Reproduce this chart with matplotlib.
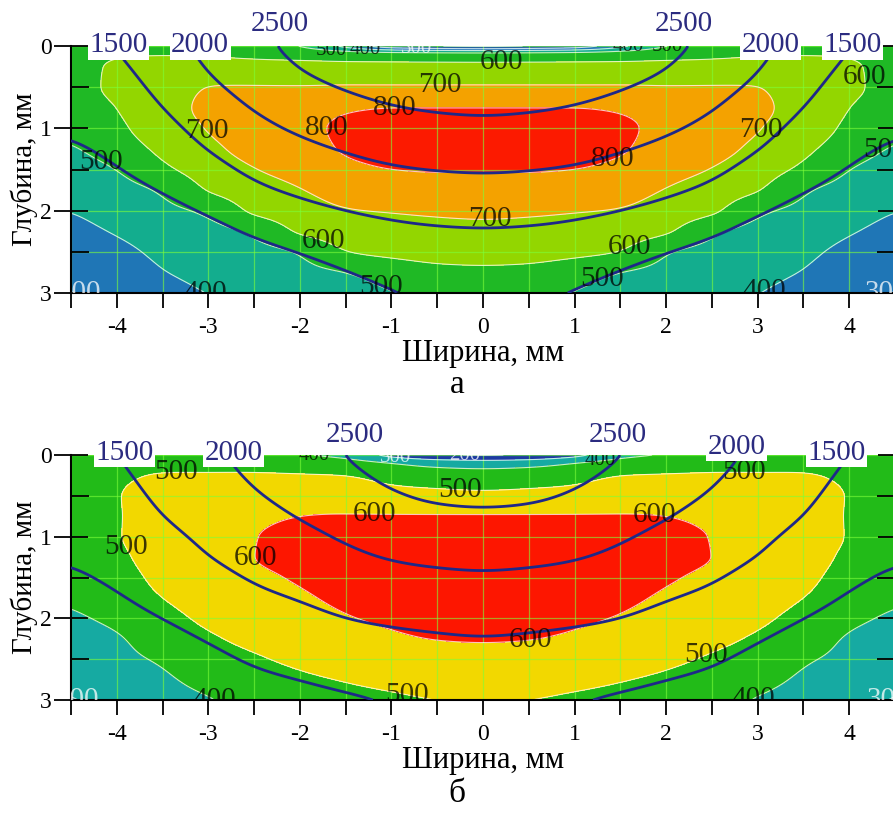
"""Two-panel cross-section map (а, б): filled field with its isolines and
temperature isotherms on top. Fields are given on a half-width grid
(x >= 0) and mirrored about the centre line.
"""
import numpy as np
import matplotlib

matplotlib.use("Agg")
import matplotlib.pyplot as plt  # noqa: E402

plt.rcParams["font.family"] = ["Liberation Serif", "DejaVu Serif"]
plt.rcParams["axes.unicode_minus"] = False

# grid: half-width (mm) and depth (mm)
X_HALF = [0, 0.5, 1, 1.5, 2, 2.5, 3, 3.5, 4, 4.5]
DEPTH = [0, 0.1, 0.25, 0.5, 0.75, 1.0, 1.25, 1.5, 1.75, 2.0, 2.25, 2.5, 2.75, 3.0]

# panel а, filled field (rows = DEPTH, cols = X_HALF)
FIELD_A = [
    [150, 170, 210, 360, 495, 545, 570, 580, 560, 540],
    [545, 548, 552, 560, 570, 580, 592, 597, 592, 556],
    [620, 620, 620, 620, 625, 630, 640, 630, 612, 565],
    [710, 710, 710, 710, 705, 705, 702, 665, 620, 560],
    [800, 800, 800, 790, 760, 740, 712, 675, 600, 545],
    [830, 830, 828, 815, 775, 745, 703, 665, 575, 520],
    [830, 830, 825, 808, 765, 730, 680, 625, 540, 490],
    [805, 805, 800, 780, 735, 697, 645, 580, 500, 465],
    [760, 760, 755, 740, 695, 655, 607, 510, 470, 430],
    [715, 712, 705, 695, 655, 620, 515, 480, 440, 400],
    [680, 675, 665, 650, 615, 515, 475, 455, 408, 370],
    [630, 628, 620, 600, 505, 475, 450, 425, 370, 345],
    [585, 580, 550, 500, 475, 450, 425, 397, 335, 320],
    [540, 535, 495, 450, 440, 420, 402, 365, 305, 298],
]

# panel а, temperature
TEMP_A = [
    [3095, 3067, 2968, 2830, 2620, 2400, 2122, 1833, 1507, 1363],
    [3025, 2997, 2903, 2770, 2580, 2350, 2088, 1788, 1472, 1330],
    [2920, 2892, 2806, 2680, 2520, 2275, 2035, 1721, 1420, 1280],
    [2745, 2717, 2643, 2530, 2375, 2150, 1919, 1608, 1332, 1198],
    [2570, 2542, 2479, 2367, 2219, 2025, 1785, 1495, 1245, 1116],
    [2393, 2366, 2308, 2200, 2063, 1882, 1651, 1375, 1157, 1033],
    [2214, 2190, 2137, 2033, 1900, 1735, 1516, 1255, 1070, 951],
    [2036, 2014, 1962, 1857, 1733, 1588, 1359, 1135, 983, 868],
    [1846, 1823, 1769, 1679, 1567, 1426, 1199, 1014, 895, 786],
    [1654, 1631, 1577, 1500, 1390, 1243, 1038, 894, 808, 703],
    [1472, 1455, 1412, 1329, 1200, 1059, 878, 774, 720, 621],
    [1333, 1313, 1265, 1158, 1015, 875, 718, 654, 633, 538],
    [1194, 1170, 1118, 986, 830, 691, 558, 534, 545, 456],
    [1056, 1028, 971, 815, 645, 508, 398, 413, 458, 373],
]

# panel б, filled field
FIELD_B = [
    [180, 200, 260, 370, 405, 450, 470, 480, 480, 470],
    [350, 360, 400, 440, 460, 475, 485, 490, 488, 475],
    [440, 450, 470, 500, 505, 508, 505, 503, 492, 478],
    [520, 525, 530, 545, 560, 560, 545, 525, 497, 480],
    [605, 605, 605, 605, 600, 585, 562, 535, 495, 475],
    [640, 640, 635, 630, 618, 598, 570, 538, 495, 465],
    [655, 655, 650, 640, 620, 600, 568, 533, 485, 452],
    [655, 655, 648, 635, 608, 585, 557, 520, 470, 435],
    [645, 642, 635, 618, 588, 562, 540, 500, 455, 410],
    [625, 622, 612, 595, 562, 540, 517, 470, 420, 385],
    [605, 602, 590, 570, 535, 517, 490, 440, 392, 360],
    [575, 572, 560, 540, 515, 492, 465, 410, 380, 340],
    [540, 535, 522, 505, 485, 465, 432, 385, 355, 320],
    [505, 500, 485, 470, 445, 438, 392, 360, 330, 292],
]

# panel б, temperature
TEMP_B = [
    [2948, 2890, 2752, 2509, 2336, 2160, 1909, 1751, 1490, 1346],
    [2878, 2825, 2692, 2463, 2294, 2122, 1876, 1718, 1460, 1320],
    [2773, 2728, 2602, 2394, 2231, 2065, 1827, 1668, 1416, 1281],
    [2598, 2565, 2455, 2278, 2126, 1966, 1744, 1586, 1342, 1216],
    [2429, 2404, 2313, 2162, 2021, 1859, 1662, 1503, 1268, 1151],
    [2269, 2244, 2170, 2046, 1899, 1752, 1579, 1403, 1195, 1086],
    [2109, 2083, 2028, 1917, 1773, 1645, 1495, 1302, 1121, 1021],
    [1950, 1924, 1875, 1778, 1646, 1538, 1377, 1202, 1047, 956],
    [1794, 1766, 1719, 1639, 1520, 1421, 1259, 1101, 973, 891],
    [1638, 1608, 1563, 1500, 1392, 1297, 1142, 1000, 900, 826],
    [1484, 1456, 1417, 1361, 1263, 1173, 1024, 899, 826, 761],
    [1349, 1319, 1278, 1222, 1134, 1050, 906, 799, 752, 696],
    [1215, 1181, 1139, 1083, 1005, 926, 788, 698, 678, 631],
    [1081, 1044, 1000, 944, 876, 802, 670, 597, 605, 566],
]

LEVELS_A = [200, 300, 400, 500, 600, 700, 800]
COLORS_A = ["#14237e", "#1c56a6", "#1f76b6", "#13ad8e", "#1fb925",
            "#93d600", "#f4a200", "#fc1a00"]
LEVELS_B = [200, 300, 400, 500, 600]
COLORS_B = ["#0f1f86", "#1c3aa2", "#16aaa2", "#22bb18", "#f2d800", "#fd1600"]
TEMP_LEVELS = [1000, 1500, 2000, 2500]

# where the field labels sit (nearest isoline gets the label)
LABEL_POS_A = [(-2.98, 1.0), (-1.67, 1.0), (-0.96, 0.69), (-0.47, 0.42),
               (0.2, 0.22), (1.39, 1.3), (3.03, 1.02), (4.17, 0.38),
               (4.36, 1.2), (-4.19, 1.45), (-1.73, 2.33), (0.08, 2.12),
               (1.6, 2.45), (-2.93, 2.96), (-1.13, 2.96), (1.33, 2.9),
               (3.08, 2.98), (-4.4, 2.97), (4.4, 2.97),
               (-1.65, 0.01), (-1.28, 0.01), (-0.72, 0.01), (1.6, 0.01),
               (2.05, 0.02)]
LABEL_POS_B = [(-3.35, 0.27), (-3.72, 1.02), (-1.18, 0.68), (-2.45, 1.25),
               (-1.95, 0.0), (-0.96, 0.05), (-0.2, 0.02), (1.28, 0.1),
               (-0.25, 0.43), (1.87, 0.72), (2.85, 0.22), (0.52, 2.27),
               (2.42, 2.42), (2.9, 2.9), (4.4, 2.98), (-4.4, 2.98),
               (-2.63, 2.94), (-0.82, 2.9)]

# isotherm tags above the top edge: (x, y, level)
TEMP_TAGS_A = [(-3.98, -0.01, 1500), (-3.09, -0.01, 2000), (-2.22, -0.27, 2500),
               (2.19, -0.27, 2500), (3.14, -0.01, 2000), (4.04, -0.01, 1500)]
TEMP_TAGS_B = [(-3.92, -0.03, 1500), (-2.72, -0.03, 2000), (-1.4, -0.25, 2500),
               (1.47, -0.25, 2500), (2.77, -0.1, 2000), (3.86, -0.03, 1500)]

LINE_COLOR = "#1e2888"
TAG_COLOR = "#2b2b80"


def pchip(x, y, xn):
    """Monotone cubic (PCHIP) interpolation along axis 0 of y."""
    x = np.asarray(x, float)
    y = np.asarray(y, float)
    h = np.diff(x)
    delta = np.diff(y, axis=0) / h[:, None]
    d = np.zeros_like(y)
    d[0], d[-1] = delta[0], delta[-1]
    for k in range(1, len(x) - 1):
        w1, w2 = 2 * h[k] + h[k - 1], h[k] + 2 * h[k - 1]
        a, b = delta[k - 1], delta[k]
        same = a * b > 0
        d[k] = np.where(same, (w1 + w2) / (w1 / np.where(same, a, 1)
                                           + w2 / np.where(same, b, 1)), 0)
    i = np.clip(np.searchsorted(x, xn) - 1, 0, len(x) - 2)
    t = ((xn - x[i]) / h[i])[:, None]
    hi = h[i][:, None]
    return ((2 * t**3 - 3 * t**2 + 1) * y[i] + (t**3 - 2 * t**2 + t) * hi * d[i]
            + (-2 * t**3 + 3 * t**2) * y[i + 1] + (t**3 - t**2) * hi * d[i + 1])


def blur(f, sigma, axis):
    """Light gaussian blur (sigma in samples) to round off grid kinks."""
    r = int(3 * sigma)
    k = np.exp(-0.5 * (np.arange(-r, r + 1) / sigma) ** 2)
    k /= k.sum()
    pad = [(0, 0), (0, 0)]
    pad[axis] = (r, r)
    fp = np.pad(f, pad, mode="edge")
    return np.apply_along_axis(lambda v: np.convolve(v, k, mode="valid"), axis, fp)


XH = np.asarray(X_HALF, float)
XS = np.concatenate([-XH[:0:-1], XH])
XF = np.linspace(-4.5, 4.5, 361)     # 0.025 mm
YF = np.linspace(0, 3, 301)          # 0.01 mm


def fine_field(grid, sx, sy):
    g = np.asarray(grid, float)
    g = np.hstack([g[:, :0:-1], g])          # mirror about x = 0
    along_x = pchip(XS, g.T, XF).T           # (ny, nxf)
    f = pchip(DEPTH, along_x, YF)            # (nyf, nxf)
    f = blur(f, sx / 0.025, axis=1)
    if sy > 0:
        f = blur(f, sy / 0.01, axis=0)
    return f


def draw_panel(ax, field, temp, levels, colors, label_pos, tags):
    zf = fine_field(field, 0.12, 0.02)
    tz = fine_field(temp, 0.18, 0.1)

    ax.contourf(XF, YF, zf, levels=[-1e4] + levels + [1e4], colors=colors)
    cs = ax.contour(XF, YF, zf, levels=levels, colors="white",
                    linewidths=0.8, alpha=0.75)
    ax.contour(XF, YF, tz, levels=TEMP_LEVELS, colors=LINE_COLOR,
               linewidths=2.0, zorder=3)

    lab_colors = ["white" if v <= 300 else "black" for v in levels]
    texts = ax.clabel(cs, manual=label_pos, inline=False, fmt="%d",
                      fontsize=21, colors=lab_colors)
    for t in texts:
        t.set_rotation(0)
        t.set_clip_on(True)
        t.set_zorder(4)
        if t.get_position()[1] < 0.1:    # crowded surface layer
            t.set_fontsize(15)

    for x, y, lev in tags:
        ax.text(x, y, str(lev), ha="center", va="center", fontsize=21,
                color=TAG_COLOR, clip_on=False, zorder=6,
                bbox=dict(boxstyle="square,pad=0.05", fc="white", ec="none"))

    ax.set_xlim(-4.5, 4.5)
    ax.set_ylim(3, 0)
    ax.set_xticks(range(-4, 5))
    ax.set_xticks(np.arange(-4.5, 4.51, 0.5), minor=True)
    ax.set_yticks([0, 1, 2, 3])
    ax.set_yticks([0.5, 1.5, 2.5], minor=True)
    ax.grid(which="both", color="#7dff3a", linewidth=0.9, alpha=0.6)
    ax.tick_params(axis="x", which="both", direction="out", length=11,
                   width=1.3, labelsize=17, pad=6)
    ax.tick_params(axis="y", which="major", direction="inout", length=24,
                   width=1.3, labelsize=17, pad=2, right=True)
    ax.tick_params(axis="y", which="minor", direction="in", length=13,
                   width=1.3, right=True)
    for side in ("top", "right"):
        ax.spines[side].set_visible(False)
    for side in ("left", "bottom"):
        ax.spines[side].set_linewidth(1.5)
    ax.set_xlabel("Ширина, мм", fontsize=22, labelpad=1)
    ax.set_ylabel("Глубина, мм", fontsize=21, labelpad=1)


fig = plt.figure(figsize=(8.93, 8.14), dpi=100)
ax_a = fig.add_axes([0.0795, 0.640, 0.9227, 0.3034])
ax_b = fig.add_axes([0.0795, 0.140, 0.9227, 0.301])

draw_panel(ax_a, FIELD_A, TEMP_A, LEVELS_A, COLORS_A, LABEL_POS_A, TEMP_TAGS_A)
draw_panel(ax_b, FIELD_B, TEMP_B, LEVELS_B, COLORS_B, LABEL_POS_B, TEMP_TAGS_B)

fig.text(0.512, 0.527, "а", ha="center", va="center", fontsize=24)
fig.text(0.512, 0.025, "б", ha="center", va="center", fontsize=24)

fig.savefig("out.png", dpi=100)
